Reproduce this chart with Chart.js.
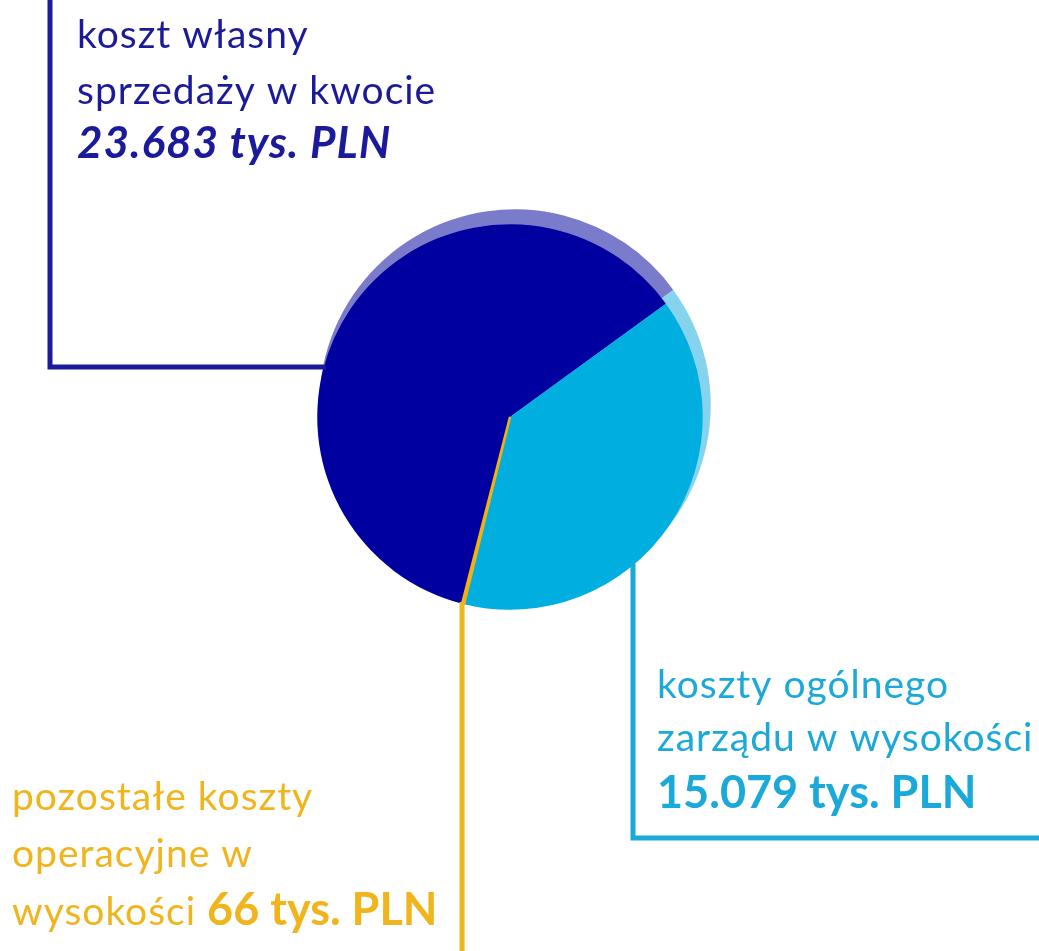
<!DOCTYPE html>
<html>
<head>
<meta charset="utf-8">
<script src="https://cdn.jsdelivr.net/npm/chart.js@4/dist/chart.umd.min.js"></script>
<style>
  html, body { margin: 0; padding: 0; background: #fff; }
  #wrap { width: 1039px; height: 951px; position: relative; }
</style>
</head>
<body>
<div id="wrap"><canvas id="costChart" width="1039" height="951"></canvas></div>
<script>
// data (tys. PLN)
const categories = ['koszt własny sprzedaży', 'koszty ogólnego zarządu', 'pozostałe koszty operacyjne'];
const values = [23683, 15079, 66];
const sliceColors = ['#0000A0', '#00AEE0', '#F2B10F'];
const rimColors = ['#7B7BCB', '#86D3EE', '#F6D36A'];
const lineColors = ['#1A1A9A', '#1BA9DA', '#F0B41C'];

// label text, each line is a list of [text, bold] runs
const labelLines = [
    [[['koszt własny', false]], [['sprzedaży w kwocie', false]], [['23.683 tys. PLN', true]]],
    [[['koszty ogólnego', false]], [['zarządu w wysokości', false]], [['15.079 tys. PLN', true]]],
    [[['pozostałe koszty', false]], [['operacyjne w', false]], [['wysokości ', false], ['66 tys. PLN', true]]]
];

const FONT = 'Lato, "Open Sans", sans-serif';

const leaderPlugin = {
    id: 'leaders',
    beforeDatasetsDraw(chart) {
        const ctx = chart.ctx;
        const arcs = chart.getDatasetMeta(0).data;
        // lighter "rim" behind the pie, shifted up-right
        ctx.save();
        arcs.forEach((a, i) => {
            const p = a.getProps(['x', 'y', 'outerRadius', 'startAngle', 'endAngle'], true);
            const cx = p.x + 5, cy = p.y - 12;
            ctx.beginPath();
            ctx.moveTo(cx, cy);
            ctx.arc(cx, cy, p.outerRadius + 3, p.startAngle, p.endAngle);
            ctx.closePath();
            ctx.fillStyle = rimColors[i];
            ctx.fill();
        });
        ctx.restore();
    },
    afterDatasetsDraw(chart) {
        const ctx = chart.ctx;
        const W = chart.width, H = chart.height;
        const arcs = chart.getDatasetMeta(0).data;
        const p0 = arcs[0].getProps(['x', 'y', 'outerRadius'], true);
        const cx = p0.x, cy = p0.y, r = p0.outerRadius;

        ctx.save();
        ctx.lineWidth = 5;
        ctx.lineCap = 'butt';

        // koszt własny sprzedaży: up the left side, into the pie at y=367
        const y1 = 367;
        const x1 = cx - Math.sqrt(r * r - (y1 - cy) * (y1 - cy));
        ctx.strokeStyle = lineColors[0];
        ctx.beginPath();
        ctx.moveTo(50, 0);
        ctx.lineTo(50, y1);
        ctx.lineTo(x1 + 2, y1);
        ctx.stroke();

        // koszty ogólnego zarządu: down from the pie, right to the edge
        const x2 = 633;
        const y2 = cy + Math.sqrt(r * r - (x2 - cx) * (x2 - cx));
        ctx.strokeStyle = lineColors[1];
        ctx.beginPath();
        ctx.moveTo(x2, y2 - 2);
        ctx.lineTo(x2, 838);
        ctx.lineTo(W, 838);
        ctx.stroke();

        // pozostałe koszty operacyjne: straight down from the small slice
        const p2 = arcs[2].getProps(['startAngle', 'endAngle'], true);
        const mid = (p2.startAngle + p2.endAngle) / 2;
        const x3 = cx + r * Math.cos(mid) - 1;
        const y3 = cy + r * Math.sin(mid);
        ctx.strokeStyle = lineColors[2];
        ctx.beginPath();
        ctx.moveTo(x3, y3 - 2);
        ctx.lineTo(x3, H);
        ctx.stroke();

        // labels
        const blocks = [
            { x: 77, ys: [48, 104, 158], italicBold: true },
            { x: 657, ys: [698, 751, 808], italicBold: false },
            { x: 12, ys: [810, 867, 925], italicBold: false }
        ];
        ctx.textBaseline = 'alphabetic';
        ctx.textAlign = 'left';
        blocks.forEach((b, i) => {
            ctx.fillStyle = lineColors[i];
            labelLines[i].forEach((runs, li) => {
                let x = b.x;
                runs.forEach(([txt, bold]) => {
                    if (bold) {
                        ctx.font = (b.italicBold ? 'italic bold 44px ' : 'bold 45px ') + FONT;
                        ctx.letterSpacing = b.italicBold ? '1px' : '0px';
                    } else {
                        ctx.font = '39px ' + FONT;
                        ctx.letterSpacing = '1px';
                    }
                    ctx.fillText(txt, x, b.ys[li]);
                    x += ctx.measureText(txt).width;
                });
            });
        });
        ctx.restore();
    }
};

new Chart(document.getElementById('costChart').getContext('2d'), {
    type: 'pie',
    data: {
        labels: categories,
        datasets: [{
            data: values,
            backgroundColor: sliceColors,
            borderColor: ['#0000A0', '#00AEE0', '#F2B10F'],
            borderWidth: [0, 0, 2.5]
        }]
    },
    options: {
        responsive: false,
        animation: false,
        rotation: 194.4,
        layout: { padding: { left: 316, right: 335, top: 223, bottom: 340 } },
        plugins: {
            legend: { display: false },
            tooltip: { enabled: false }
        }
    },
    plugins: [leaderPlugin]
});
</script>
</body>
</html>
